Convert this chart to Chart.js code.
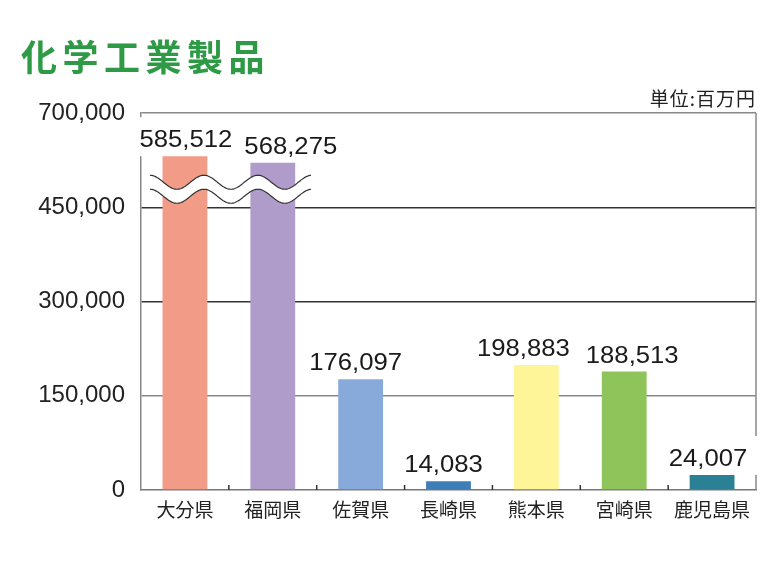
<!DOCTYPE html>
<html lang="ja">
<head>
<meta charset="utf-8">
<title>化学工業製品</title>
<script src="https://cdn.jsdelivr.net/npm/chart.js@4/dist/chart.umd.min.js"></script>
<style>
  body { margin: 0; background: #fff; }
  #wrap { position: relative; width: 779px; height: 582px; }
  #title {
    position: absolute; left: 21px; top: 37px; margin: 0;
    font: bold 36px "Noto Sans CJK JP"; line-height: 1; letter-spacing: 5.5px;
    color: #2e9a45;
  }
  #unit {
    position: absolute; right: 23px; top: 88px;
    font: 19px "Noto Sans CJK JP"; line-height: 1; letter-spacing: 1px;
    color: #222;
  }
</style>
</head>
<body>
<div id="wrap">
  <canvas id="chart" width="779" height="582"></canvas>
  <h1 id="title">化学工業製品</h1>
  <div id="unit">単位:百万円</div>
</div>
<script>
const categories = ['大分県', '福岡県', '佐賀県', '長崎県', '熊本県', '宮崎県', '鹿児島県'];
const values = [585512, 568275, 176097, 14083, 198883, 188513, 24007];
const barColors = ['#f29c87', '#b09ccb', '#88aadb', '#3f7db8', '#fef599', '#8fc45a', '#2a8196'];
const tickValues = [0, 150000, 300000, 450000, 700000];

// axis is broken above 450,000: the last step (450k -> 700k) gets the same height as one 150k step
const breakAt = 450000;
const toAxis = v => v <= breakAt ? v : breakAt + (v - breakAt) * 150000 / 250000;
const fmt = v => v.toLocaleString('en-US');

const labelFont = '24px "Liberation Sans"';
const stretch = 1.07;

const valueLabels = {
    id: 'valueLabels',
    beforeDatasetsDraw(chart, args, opts) {
        const ctx = chart.ctx;
        const area = chart.chartArea;
        ctx.save();
        // right frame line
        ctx.strokeStyle = '#888';
        ctx.lineWidth = 1.5;
        ctx.beginPath();
        ctx.moveTo(area.right, area.top);
        ctx.lineTo(area.right, area.bottom);
        ctx.stroke();
        // white boxes behind the value labels
        ctx.font = labelFont;
        ctx.fillStyle = '#fff';
        chart.getDatasetMeta(0).data.forEach((bar, i) => {
            const w = ctx.measureText(fmt(values[i])).width * stretch;
            const cx = bar.x + opts.shift[i];
            const base = bar.y - opts.gap;
            ctx.fillRect(cx - w / 2 - 10, base - 30, w + 20, bar.y - base + 30);
        });
        ctx.restore();
    },
    afterDatasetsDraw(chart, args, opts) {
        const ctx = chart.ctx;
        const area = chart.chartArea;
        const x = chart.scales.x;
        const y = chart.scales.y;
        const bars = chart.getDatasetMeta(0).data;
        ctx.save();

        // value labels
        ctx.font = labelFont;
        ctx.fillStyle = '#1a1a1a';
        ctx.textAlign = 'center';
        ctx.textBaseline = 'alphabetic';
        bars.forEach((bar, i) => {
            ctx.save();
            ctx.translate(bar.x + opts.shift[i], bar.y - opts.gap);
            ctx.scale(stretch, 1);
            ctx.fillText(fmt(values[i]), 0, 0);
            ctx.restore();
        });

        // small inner ticks between categories
        ctx.strokeStyle = '#333';
        ctx.lineWidth = 1.5;
        for (let i = 1; i < categories.length; i++) {
            const px = (x.getPixelForValue(i - 1) + x.getPixelForValue(i)) / 2;
            ctx.beginPath();
            ctx.moveTo(px, area.bottom);
            ctx.lineTo(px, area.bottom - 5);
            ctx.stroke();
        }

        // wavy break mark over the two tall bars
        const x0 = bars[0].x - 35;
        const x1 = bars[1].x + 39;
        const period = (x1 - x0) / 3;
        const yb = y.getPixelForValue(breakAt);
        const yTop = yb - 25, yBot = yb - 11, amp = 7;
        const wave = (px, yc) => yc - amp * Math.cos(2 * Math.PI * (px - x0) / period);
        ctx.beginPath();
        for (let px = x0; px <= x1; px++) ctx.lineTo(px, wave(px, yTop));
        for (let px = x1; px >= x0; px--) ctx.lineTo(px, wave(px, yBot));
        ctx.closePath();
        ctx.fillStyle = '#fff';
        ctx.fill();
        ctx.strokeStyle = '#333';
        ctx.lineWidth = 1.2;
        [yTop, yBot].forEach(yc => {
            ctx.beginPath();
            for (let px = x0; px <= x1; px++) ctx.lineTo(px, wave(px, yc));
            ctx.stroke();
        });
        ctx.restore();
    }
};

new Chart(document.getElementById('chart'), {
    type: 'bar',
    data: {
        labels: categories,
        datasets: [{
            data: values.map(toAxis),
            backgroundColor: barColors,
            borderWidth: 0,
            barPercentage: 0.51,
            categoryPercentage: 1.0
        }]
    },
    options: {
        responsive: false,
        animation: false,
        layout: { padding: { top: 113, right: 23, left: 0, bottom: 0 } },
        plugins: {
            legend: { display: false },
            title: { display: false },
            tooltip: { enabled: false },
            valueLabels: {
                gap: 9,
                // labels were nudged sideways in the original so neighbours do not collide
                shift: [1, 18, -5, -5, -13, 8, -4]
            }
        },
        scales: {
            x: {
                afterFit: s => { s.height = 92; },
                grid: { display: false },
                border: { display: true, color: '#777', width: 1.5 },
                ticks: {
                    padding: 0,
                    color: '#222',
                    font: { family: '"Noto Sans CJK JP"', size: 19 }
                }
            },
            y: {
                min: 0,
                max: toAxis(700000),
                afterFit: s => { s.width = 141; },
                afterBuildTicks: s => { s.ticks = tickValues.map(v => ({ value: toAxis(v) })); },
                grid: {
                    drawTicks: false,
                    lineWidth: 1.5,
                    color: c => {
                        const v = c.tick ? c.tick.value : 0;
                        if (v === 0) return 'rgba(0,0,0,0)';
                        if (v === 150000 || v === toAxis(700000)) return '#888';
                        return '#333';
                    }
                },
                border: { display: true, color: '#888', width: 1.5 },
                ticks: {
                    padding: 16,
                    color: '#222',
                    font: { family: '"Liberation Sans"', size: 24 },
                    callback: (v, i) => fmt(tickValues[i])
                }
            }
        }
    },
    plugins: [valueLabels]
});
</script>
</body>
</html>
